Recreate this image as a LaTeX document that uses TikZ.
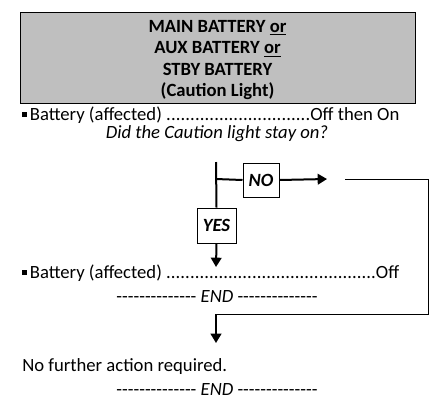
\documentclass[tikz,border=0pt]{standalone}
\usepackage{fontspec}
\setmainfont{Carlito}
\usetikzlibrary{arrows.meta}
\newcommand\tightdots{\xleaders\hbox{.}\hfill}
\newcommand\sqbullet{\rule[0.2em]{3.2pt}{3.2pt}\hspace{2.5pt}}
\newcommand\hy{-\kern0pt}
\newcommand\hyrun{\hy\hy\hy\hy\hy\hy\hy\hy\hy\hy\hy\hy\hy\hy}
\begin{document}
\begin{tikzpicture}[x=0.75pt,y=-0.75pt,
  every node/.style={font=\fontsize{14}{16}\selectfont, inner sep=0pt},
  titlebox/.style={draw=black, line width=0.75pt, fill=black!25, align=center,
    minimum width=296.25pt, minimum height=68.25pt,
    font=\bfseries\fontsize{14}{16.1}\selectfont},
  answerbox/.style={draw=black, line width=0.75pt, fill=white,
    font=\bfseries\itshape\fontsize{14}{16}\selectfont},
  flow/.style={line width=1.5pt},
  flowarrow/.style={line width=1.5pt, -{Triangle[width=8pt,length=7pt]}},
  thinline/.style={line width=0.75pt}]
\useasboundingbox (0,0) rectangle (442,404);
\node[titlebox] (title) at (217.5,57.5)
  {\rule{0pt}{13pt}MAIN BATTERY \underline{or}\\AUX BATTERY \underline{or}\\STBY BATTERY\\(Caution Light)};
\node[anchor=west] (step1) at (22,115)
  {\hbox to 283pt{\sqbullet Battery (affected) \tightdots Off then On}};
\node (question) at (217,134) {\itshape Did the Caution light stay on?};
\coordinate (top) at (216,162);
\coordinate (branch) at (216,179);
\node[answerbox, minimum width=27pt, minimum height=25.5pt] (no) at (261,180) {NO};
\node[answerbox, minimum width=29.25pt, minimum height=26.25pt] (yes) at (216.5,225.5) {YES};
\coordinate (noend) at (327,179);
\coordinate (rstart) at (345,179);
\coordinate (rcorner) at (428,179);
\coordinate (rbottom) at (428,314);
\coordinate (join) at (216,314);
\coordinate (joinend) at (216,343);
\coordinate (yesend) at (216,267);
\node[anchor=west] (step2) at (22,273)
  {\hbox to 283pt{\sqbullet Battery (affected) \tightdots Off}};
\node (end1) at (217,297) {\hyrun\ \textit{END} \hyrun};
\node[anchor=west] (nofurther) at (22,367) {No further action required.};
\node (end2) at (217,390) {\hyrun\ \textit{END} \hyrun};
\draw[flow] (top) -- (yes.north);
\draw[flow] (branch) -- (no.west);
\draw[flowarrow] (no.east) -- (noend);
\draw[flowarrow] (yes.south) -- (yesend);
\draw[thinline] (rstart) -- (rcorner) -- (rbottom) -- (join);
\draw[flowarrow] (join) -- (joinend);
\end{tikzpicture}
\end{document}
